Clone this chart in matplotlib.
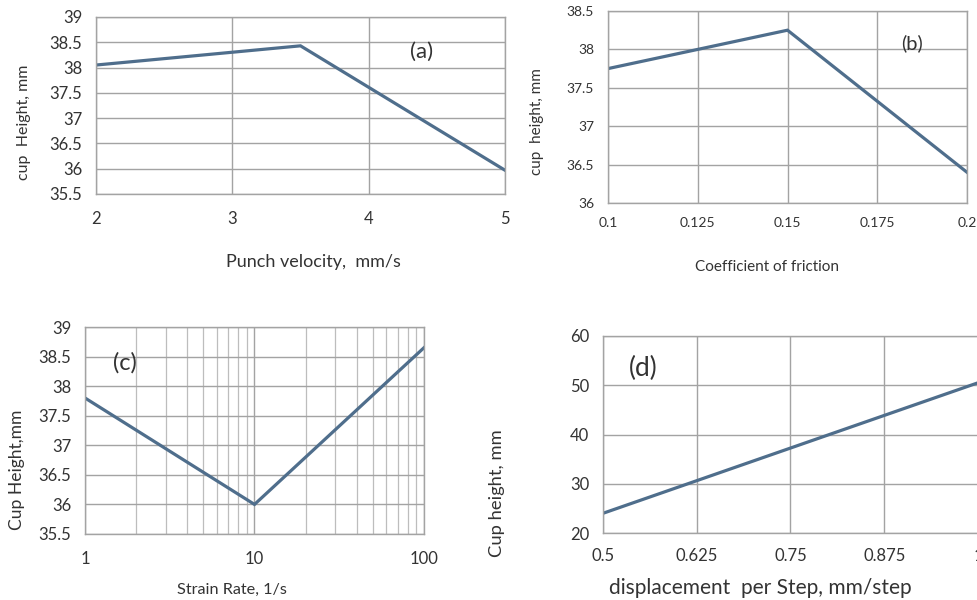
import matplotlib
matplotlib.use("Agg")
import matplotlib.pyplot as plt
from matplotlib.ticker import FixedLocator, LogLocator, NullFormatter

plt.rcParams['font.family'] = ['Lato', 'DejaVu Sans']

# Data
a_x = [2, 3.5, 5]
a_y = [38.05, 38.43, 35.97]
b_x = [0.1, 0.15, 0.2]
b_y = [37.75, 38.25, 36.4]
c_x = [1, 10, 100]
c_y = [37.8, 36.0, 38.65]
d_x = [0.5, 1.0]
d_y = [24.0, 50.5]

a_xticks = [2, 3, 4, 5]
a_yticks = [35.5, 36, 36.5, 37, 37.5, 38, 38.5, 39]
b_xticks = [0.1, 0.125, 0.15, 0.175, 0.2]
b_yticks = [36, 36.5, 37, 37.5, 38, 38.5]
c_xticks = [1, 10, 100]
c_yticks = [35.5, 36, 36.5, 37, 37.5, 38, 38.5, 39]
d_xticks = [0.5, 0.625, 0.75, 0.875, 1.0]
d_yticks = [20, 30, 40, 50, 60]

LINE = '#4f6e8c'
GRID = '#a3a3a3'
TXT = '#333333'

W, H = 978, 600
fig = plt.figure(figsize=(W / 100, H / 100), dpi=100)


def box(l, r, t, b):
    return [l / W, 1 - b / H, (r - l) / W, (b - t) / H]


def style(ax, tsize, xpad, ypad):
    for s in ax.spines.values():
        s.set_color(GRID)
        s.set_linewidth(1.0)
    ax.grid(True, which='major', color=GRID, linewidth=1.0)
    ax.set_axisbelow(True)
    ax.tick_params(axis='both', length=0, labelsize=tsize, colors=TXT)
    ax.tick_params(axis='x', pad=xpad)
    ax.tick_params(axis='y', pad=ypad)


# (a)
ax = fig.add_axes(box(96, 505, 17, 194))
ax.plot(a_x, a_y, color=LINE, lw=2.3, solid_joinstyle='miter')
ax.set_xlim(2, 5)
ax.set_ylim(35.5, 39)
ax.set_xticks(a_xticks)
ax.set_yticks(a_yticks)
ax.set_yticklabels([f'{v:g}' for v in a_yticks])
style(ax, 12, 12, 10)
ax.text(4.39, 38.31, '(a)', fontsize=16, color=TXT, ha='center', va='center')
fig.text(313 / W, 1 - 262 / H, 'Punch velocity,  mm/s', fontsize=13, color=TXT, ha='center', va='center')
fig.text(24 / W, 1 - 122 / H, 'cup  Height, mm', fontsize=11.5, color=TXT, ha='center', va='center', rotation=90)

# (b)
ax = fig.add_axes(box(608, 967, 11, 203))
ax.plot(b_x, b_y, color=LINE, lw=2.3, solid_joinstyle='miter')
ax.set_xlim(0.1, 0.2)
ax.set_ylim(36, 38.5)
ax.set_xticks(b_xticks)
ax.set_xticklabels([f'{v:g}' for v in b_xticks])
ax.set_yticks(b_yticks)
ax.set_yticklabels([f'{v:g}' for v in b_yticks])
style(ax, 10, 10, 10)
ax.text(0.1847, 38.08, '(b)', fontsize=14.5, color=TXT, ha='center', va='center')
fig.text(767 / W, 1 - 267 / H, 'Coefficient of friction', fontsize=11, color=TXT, ha='center', va='center')
fig.text(537 / W, 1 - 122 / H, 'cup  height, mm', fontsize=11, color=TXT, ha='center', va='center', rotation=90)

# (c)
ax = fig.add_axes(box(85, 424, 327, 534))
ax.plot(c_x, c_y, color=LINE, lw=2.3, solid_joinstyle='miter')
ax.set_xscale('log')
ax.set_xlim(1, 100)
ax.set_ylim(35.5, 39)
ax.xaxis.set_major_locator(FixedLocator(c_xticks))
ax.set_xticklabels([f'{v:g}' for v in c_xticks])
ax.xaxis.set_minor_locator(LogLocator(base=10, subs=range(2, 10)))
ax.xaxis.set_minor_formatter(NullFormatter())
ax.set_yticks(c_yticks)
ax.set_yticklabels([f'{v:g}' for v in c_yticks])
style(ax, 12, 12, 10)
ax.tick_params(axis='x', which='minor', length=0)
ax.grid(True, which='minor', axis='x', color='#bdbdbd', linewidth=0.9)
ax.text(1.72, 38.39, '(c)', fontsize=17, color=TXT, ha='center', va='center')
fig.text(232 / W, 1 - 590 / H, 'Strain Rate, 1/s', fontsize=11.7, color=TXT, ha='center', va='center')
fig.text(17 / W, 1 - 470 / H, 'Cup Height,mm', fontsize=12.6, color=TXT, ha='center', va='center', rotation=90)

# (d)
ax = fig.add_axes(box(603, 978, 336, 533))
ax.plot(d_x, d_y, color=LINE, lw=2.3, solid_joinstyle='miter')
ax.set_xlim(0.5, 1.0)
ax.set_ylim(20, 60)
ax.set_xticks(d_xticks)
ax.set_xticklabels([f'{v:g}' for v in d_xticks])
ax.set_yticks(d_yticks)
style(ax, 12, 11, 10)
ax.text(0.553, 53.5, '(d)', fontsize=19, color=TXT, ha='center', va='center')
fig.text(760 / W, 1 - 588 / H, 'displacement  per Step, mm/step', fontsize=15, color=TXT, ha='center', va='center')
fig.text(497 / W, 1 - 493 / H, 'Cup height, mm', fontsize=13.2, color=TXT, ha='center', va='center', rotation=90)

fig.savefig('out.png', dpi=100)
